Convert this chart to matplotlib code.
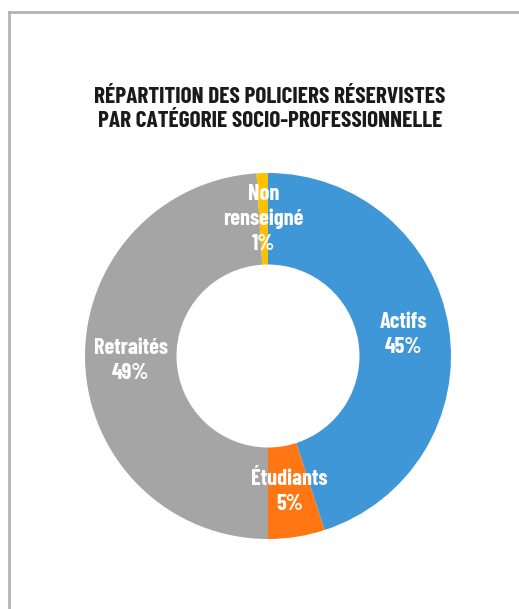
import matplotlib.pyplot as plt
from matplotlib.lines import Line2D

# Répartition par catégorie socio-professionnelle (en %)
categories = ["Actifs", "Étudiants", "Retraités", "Non\nrenseigné"]
parts = [45, 5, 49, 1]
colors = ["#3F97D8", "#FF7613", "#A5A5A5", "#FFC000"]

fonts = ["Barlow Condensed", "Roboto Condensed", "DejaVu Sans"]

fig = plt.figure(figsize=(5.19, 6.09), dpi=100)
fig.patch.set_facecolor("white")

# cadre gris (haut et gauche)
fig.add_artist(Line2D([9 / 519, 1], [1 - 12 / 609, 1 - 12 / 609],
                      transform=fig.transFigure, color="#B3B3B3", lw=2))
fig.add_artist(Line2D([9 / 519, 9 / 519], [0, 1 - 12 / 609],
                      transform=fig.transFigure, color="#B3B3B3", lw=2))

fig.text(270 / 519, 1 - 109 / 609,
         "RÉPARTITION DES POLICIERS RÉSERVISTES\nPAR CATÉGORIE SOCIO-PROFESSIONNELLE",
         ha="center", va="center", fontsize=16.8, fontweight="bold",
         family=fonts, color="#1A1A1A", linespacing=1.3)

ax = fig.add_axes([85 / 519, 70 / 609, 366 / 519, 366 / 609])

names = iter(categories)


def label(pct):
    return f"{next(names)}\n{pct:.0f}%"


wedges, texts, autotexts = ax.pie(
    parts, colors=colors, startangle=90, counterclock=False,
    radius=1, wedgeprops=dict(width=0.5, linewidth=0),
    autopct=label, pctdistance=0.75,
    textprops=dict(color="white", fontsize=16, fontweight="bold", family=fonts),
)
for t in autotexts:
    t.set_linespacing(1.3)

ax.set_xlim(-1, 1)
ax.set_ylim(-1, 1)
ax.set_aspect("equal")
ax.axis("off")

fig.savefig("out.png", dpi=100, facecolor="white")
